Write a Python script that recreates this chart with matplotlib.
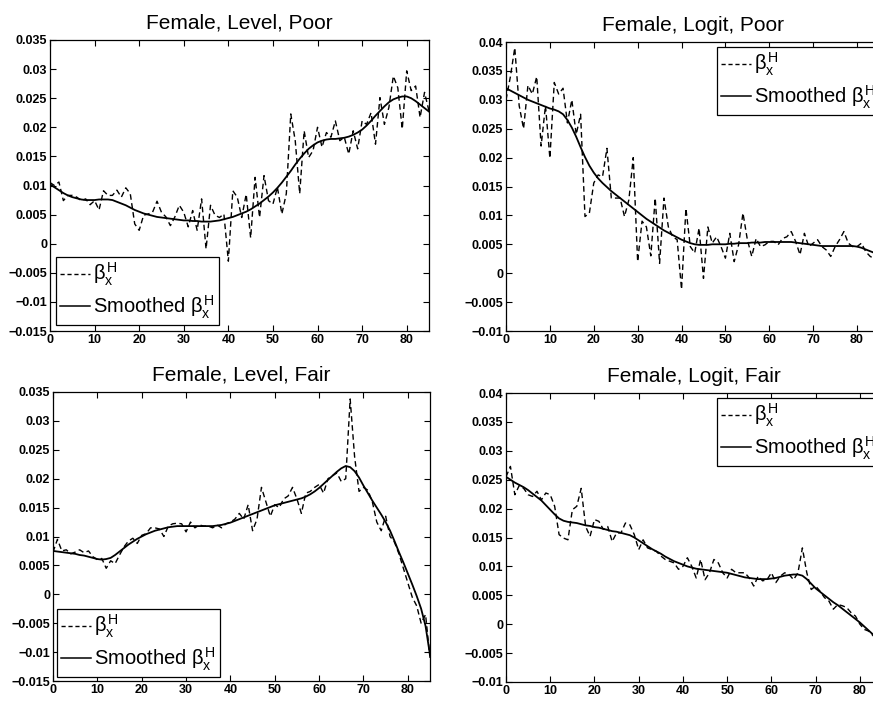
import matplotlib
matplotlib.use("Agg")
import matplotlib.pyplot as plt
from matplotlib.ticker import FuncFormatter, MultipleLocator
from matplotlib.lines import Line2D

plt.rcParams['font.family'] = ['Liberation Sans', 'DejaVu Sans']
plt.rcParams['mathtext.fontset'] = 'custom'
plt.rcParams['mathtext.rm'] = 'Liberation Sans'
plt.rcParams['mathtext.it'] = 'Liberation Sans'
plt.rcParams['mathtext.bf'] = 'Liberation Sans:bold'

ages = list(range(86))

titles = ["Female, Level, Poor", "Female, Logit, Poor",
          "Female, Level, Fair", "Female, Logit, Fair"]

level_poor_raw = [
    0.0105, 0.0100, 0.0106, 0.0074, 0.0083, 0.0083, 0.0080, 0.0074, 0.0077, 0.0067,
    0.0074, 0.0058, 0.0091, 0.0083, 0.0083, 0.0092, 0.0080, 0.0096, 0.0086, 0.0034,
    0.0023, 0.0049, 0.0051, 0.0054, 0.0073, 0.0054, 0.0046, 0.0031, 0.0046, 0.0066,
    0.0054, 0.0029, 0.0057, 0.0023, 0.0077, -0.0009, 0.0066, 0.0049, 0.0045, 0.0051,
    -0.0030, 0.0091, 0.0080, 0.0045, 0.0085, 0.0010, 0.0114, 0.0045, 0.0117, 0.0074,
    0.0068, 0.0097, 0.0051, 0.0086, 0.0223, 0.0177, 0.0086, 0.0194, 0.0148, 0.0160,
    0.0200, 0.0166, 0.0191, 0.0183, 0.0211, 0.0177, 0.0183, 0.0154, 0.0194, 0.0163,
    0.0211, 0.0205, 0.0225, 0.0171, 0.0251, 0.0205, 0.0234, 0.0288, 0.0268, 0.0197,
    0.0297, 0.0263, 0.0271, 0.0217, 0.0260, 0.0228]
level_poor_smooth = [
    0.0102, 0.0097, 0.0092, 0.0087, 0.0083, 0.0080, 0.0078, 0.0076, 0.0075, 0.0075,
    0.0075, 0.0076, 0.0076, 0.0076, 0.0075, 0.0072, 0.0069, 0.0066, 0.0062, 0.0058,
    0.0055, 0.0052, 0.0050, 0.0048, 0.0046, 0.0045, 0.0044, 0.0043, 0.0042, 0.0041,
    0.0040, 0.0040, 0.0039, 0.0039, 0.0038, 0.0038, 0.0038, 0.0039, 0.0040, 0.0042,
    0.0044, 0.0046, 0.0049, 0.0052, 0.0055, 0.0059, 0.0064, 0.0069, 0.0075, 0.0081,
    0.0088, 0.0096, 0.0105, 0.0115, 0.0125, 0.0136, 0.0146, 0.0155, 0.0163, 0.0169,
    0.0174, 0.0177, 0.0179, 0.0180, 0.0180, 0.0181, 0.0182, 0.0184, 0.0187, 0.0191,
    0.0196, 0.0203, 0.0211, 0.0220, 0.0228, 0.0236, 0.0243, 0.0248, 0.0251, 0.0253,
    0.0253, 0.0250, 0.0245, 0.0239, 0.0233, 0.0227]

logit_poor_raw = [
    0.0300, 0.0340, 0.0390, 0.0290, 0.0250, 0.0325, 0.0310, 0.0340, 0.0220, 0.0290,
    0.0199, 0.0330, 0.0310, 0.0320, 0.0260, 0.0300, 0.0240, 0.0275, 0.0098, 0.0104,
    0.0156, 0.0170, 0.0167, 0.0216, 0.0130, 0.0130, 0.0130, 0.0098, 0.0127, 0.0200,
    0.0020, 0.0090, 0.0080, 0.0030, 0.0130, 0.0017, 0.0130, 0.0080, 0.0063, 0.0058,
    -0.0028, 0.0112, 0.0046, 0.0035, 0.0078, -0.0009, 0.0080, 0.0052, 0.0063, 0.0046,
    0.0026, 0.0069, 0.0020, 0.0049, 0.0104, 0.0058, 0.0029, 0.0060, 0.0046, 0.0049,
    0.0055, 0.0055, 0.0049, 0.0060, 0.0063, 0.0072, 0.0055, 0.0032, 0.0069, 0.0046,
    0.0052, 0.0058, 0.0046, 0.0040, 0.0029, 0.0046, 0.0058, 0.0072, 0.0052, 0.0046,
    0.0046, 0.0052, 0.0037, 0.0029, 0.0025, 0.0035]
logit_poor_smooth = [
    0.0320, 0.0316, 0.0312, 0.0308, 0.0304, 0.0300, 0.0297, 0.0294, 0.0291, 0.0288,
    0.0285, 0.0283, 0.0280, 0.0275, 0.0265, 0.0252, 0.0236, 0.0218, 0.0201, 0.0186,
    0.0174, 0.0164, 0.0156, 0.0149, 0.0142, 0.0136, 0.0130, 0.0124, 0.0118, 0.0112,
    0.0106, 0.0100, 0.0094, 0.0089, 0.0084, 0.0079, 0.0074, 0.0070, 0.0066, 0.0062,
    0.0058, 0.0055, 0.0052, 0.0050, 0.0049, 0.0049, 0.0049, 0.0050, 0.0050, 0.0050,
    0.0050, 0.0051, 0.0051, 0.0052, 0.0052, 0.0052, 0.0053, 0.0053, 0.0053, 0.0054,
    0.0054, 0.0054, 0.0054, 0.0054, 0.0054, 0.0054, 0.0053, 0.0052, 0.0051, 0.0050,
    0.0049, 0.0048, 0.0047, 0.0047, 0.0047, 0.0047, 0.0047, 0.0047, 0.0047, 0.0047,
    0.0046, 0.0044, 0.0041, 0.0038, 0.0035, 0.0032]

level_fair_raw = [
    0.0073, 0.0095, 0.0075, 0.0077, 0.0070, 0.0073, 0.0077, 0.0072, 0.0075, 0.0065,
    0.0060, 0.0062, 0.0045, 0.0058, 0.0053, 0.0068, 0.0082, 0.0092, 0.0097, 0.0088,
    0.0102, 0.0105, 0.0115, 0.0115, 0.0113, 0.0100, 0.0118, 0.0122, 0.0123, 0.0122,
    0.0108, 0.0125, 0.0115, 0.0120, 0.0118, 0.0118, 0.0115, 0.0120, 0.0115, 0.0122,
    0.0125, 0.0130, 0.0140, 0.0130, 0.0155, 0.0110, 0.0130, 0.0185, 0.0160, 0.0135,
    0.0155, 0.0150, 0.0165, 0.0170, 0.0185, 0.0165, 0.0140, 0.0175, 0.0178, 0.0185,
    0.0190, 0.0175, 0.0200, 0.0205, 0.0210, 0.0195, 0.0200, 0.0338, 0.0238, 0.0178,
    0.0185, 0.0180, 0.0160, 0.0125, 0.0110, 0.0135, 0.0100, 0.0090, 0.0070, 0.0045,
    0.0020, -0.0005, -0.0020, -0.0050, -0.0035, -0.0110]
level_fair_smooth = [
    0.0075, 0.0074, 0.0073, 0.0072, 0.0071, 0.0070, 0.0068, 0.0067, 0.0065, 0.0063,
    0.0061, 0.0060, 0.0061, 0.0063, 0.0068, 0.0074, 0.0080, 0.0086, 0.0091, 0.0096,
    0.0100, 0.0104, 0.0107, 0.0110, 0.0112, 0.0114, 0.0116, 0.0117, 0.0118, 0.0118,
    0.0118, 0.0118, 0.0118, 0.0118, 0.0118, 0.0118, 0.0118, 0.0119, 0.0120, 0.0122,
    0.0124, 0.0127, 0.0130, 0.0133, 0.0136, 0.0139, 0.0142, 0.0145, 0.0148, 0.0151,
    0.0154, 0.0156, 0.0158, 0.0160, 0.0162, 0.0164, 0.0166, 0.0169, 0.0173, 0.0178,
    0.0184, 0.0191, 0.0198, 0.0205, 0.0212, 0.0218, 0.0222, 0.0220, 0.0213, 0.0202,
    0.0188, 0.0175, 0.0162, 0.0150, 0.0138, 0.0125, 0.0110, 0.0092, 0.0073, 0.0055,
    0.0036, 0.0017, -0.0003, -0.0025, -0.0055, -0.0105]

logit_fair_raw = [
    0.0255, 0.0273, 0.0224, 0.0240, 0.0235, 0.0224, 0.0221, 0.0230, 0.0215, 0.0227,
    0.0224, 0.0204, 0.0155, 0.0149, 0.0146, 0.0198, 0.0204, 0.0235, 0.0169, 0.0152,
    0.0181, 0.0178, 0.0164, 0.0169, 0.0143, 0.0158, 0.0158, 0.0175, 0.0172, 0.0155,
    0.0129, 0.0146, 0.0132, 0.0129, 0.0126, 0.0118, 0.0112, 0.0109, 0.0106, 0.0095,
    0.0100, 0.0115, 0.0100, 0.0080, 0.0112, 0.0077, 0.0089, 0.0112, 0.0106, 0.0089,
    0.0080, 0.0095, 0.0089, 0.0089, 0.0089, 0.0080, 0.0066, 0.0083, 0.0075, 0.0077,
    0.0089, 0.0072, 0.0083, 0.0089, 0.0086, 0.0077, 0.0089, 0.0132, 0.0089, 0.0060,
    0.0066, 0.0057, 0.0046, 0.0040, 0.0026, 0.0034, 0.0032, 0.0029, 0.0020, 0.0014,
    0.0000, -0.0009, -0.0012, -0.0020, -0.0028, -0.0035]
logit_fair_smooth = [
    0.0255, 0.0250, 0.0245, 0.0241, 0.0237, 0.0232, 0.0226, 0.0220, 0.0214, 0.0206,
    0.0198, 0.0190, 0.0183, 0.0179, 0.0177, 0.0176, 0.0175, 0.0173, 0.0171, 0.0170,
    0.0168, 0.0167, 0.0165, 0.0163, 0.0161, 0.0160, 0.0158, 0.0156, 0.0154, 0.0150,
    0.0145, 0.0140, 0.0135, 0.0130, 0.0126, 0.0122, 0.0117, 0.0113, 0.0109, 0.0106,
    0.0103, 0.0100, 0.0098, 0.0096, 0.0095, 0.0094, 0.0093, 0.0092, 0.0091, 0.0090,
    0.0089, 0.0087, 0.0085, 0.0083, 0.0081, 0.0080, 0.0079, 0.0078, 0.0078, 0.0078,
    0.0079, 0.0080, 0.0082, 0.0084, 0.0085, 0.0086, 0.0086, 0.0084, 0.0078, 0.0070,
    0.0062, 0.0056, 0.0050, 0.0044, 0.0038, 0.0033, 0.0027, 0.0021, 0.0015, 0.0009,
    0.0003, -0.0004, -0.0011, -0.0018, -0.0025, -0.0032]

raw_series = [level_poor_raw, logit_poor_raw, level_fair_raw, logit_fair_raw]
smooth_series = [level_poor_smooth, logit_poor_smooth, level_fair_smooth, logit_fair_smooth]
ylims = [(-0.015, 0.035), (-0.01, 0.04), (-0.015, 0.035), (-0.01, 0.04)]
x_ticks = [0, 10, 20, 30, 40, 50, 60, 70, 80]

W, H = 873, 701
fig = plt.figure(figsize=(W / 100, H / 100), dpi=100)

# axes boxes in pixels: left, right, top, bottom
boxes = [(50, 429, 40, 331), (506, 879, 42, 331),
         (53, 430, 392, 681), (506, 882, 393, 682)]
# legend placement: (loc, anchor in axes fraction)
legend_place = [('lower left', (0.016, 0.021)),
                ('upper left', (0.566, 0.983)),
                ('lower left', (0.011, 0.014)),
                ('upper left', (0.561, 0.983))]

def fmt(v, pos):
    s = '%g' % round(v, 4)
    return s.replace('-', '\u2212')

for i in range(4):
    l, r, t, b = boxes[i]
    ax = fig.add_axes([l / W, 1 - b / H, (r - l) / W, (b - t) / H])
    ax.plot(ages, raw_series[i], color='k', lw=1.0, linestyle=(0, (4, 2.5)))
    ax.plot(ages, smooth_series[i], color='k', lw=1.3)
    ax.set_xlim(0, 85)
    ax.set_ylim(*ylims[i])
    ax.set_xticks(x_ticks)
    ax.yaxis.set_major_locator(MultipleLocator(0.005))
    ax.yaxis.set_major_formatter(FuncFormatter(fmt))
    ax.tick_params(direction='in', top=True, right=True, length=4, width=0.8,
                   labelsize=9, pad=2)
    for lab in ax.get_xticklabels() + ax.get_yticklabels():
        lab.set_fontweight('bold')
    for sp in ax.spines.values():
        sp.set_linewidth(0.9)
    ax.set_title(titles[i], fontsize=15, pad=8)
    handles = [Line2D([], [], color='k', lw=1.0, linestyle=(0, (3, 2))),
               Line2D([], [], color='k', lw=1.1)]
    loc, anchor = legend_place[i]
    leg = ax.legend(handles, [r'$\beta_x^H$', r'Smoothed $\beta_x^H$'],
                    loc=loc, bbox_to_anchor=anchor, borderaxespad=0.0,
                    fontsize=14.5, frameon=True, fancybox=False,
                    edgecolor='k', framealpha=1,
                    handlelength=1.5, handletextpad=0.15, borderpad=0.2,
                    labelspacing=0.25)
    leg.get_frame().set_linewidth(0.9)

fig.savefig('out.png', dpi=100)
